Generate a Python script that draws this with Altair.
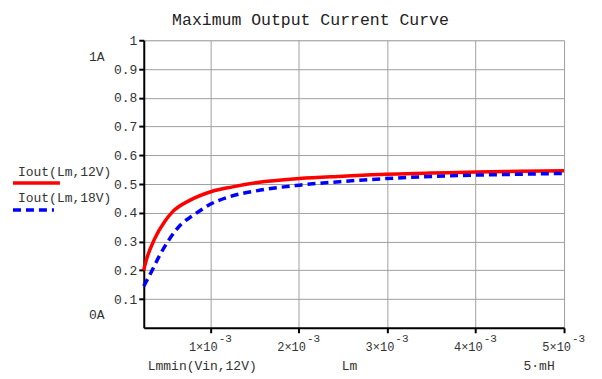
import altair as alt
import pandas as pd

# Lm in mH (axis shown as ×10^-3 H), current in A
lm_12 = [0.243, 0.254, 0.367, 0.48, 0.571, 0.763, 1.011, 1.249, 1.531, 2.006, 2.5, 2.989, 3.5, 4.006, 4.5, 5.0]
iout_12 = [0.200, 0.215, 0.310, 0.370, 0.404, 0.443, 0.474, 0.490, 0.505, 0.519, 0.527, 0.534, 0.538, 0.542, 0.544, 0.546]
lm_18 = [0.243, 0.33, 0.42, 0.537, 0.672, 0.797, 1.011, 1.215, 1.531, 2.006, 2.5, 2.989, 3.5, 4.006, 4.5, 5.0]
iout_18 = [0.145, 0.195, 0.250, 0.310, 0.362, 0.390, 0.432, 0.456, 0.477, 0.496, 0.509, 0.519, 0.526, 0.531, 0.534, 0.537]

x_ticks = [1, 2, 3, 4, 5]
x_tick_base = ["1×10", "2×10", "3×10", "4×10", "5×10"]
x_tick_exp = ["-3", "-3", "-3", "-3", "-3"]
y_ticks = [0.1, 0.2, 0.3, 0.4, 0.5, 0.6, 0.7, 0.8, 0.9, 1.0]

title_text = "Maximum Output Current Curve"
legend_labels = ["Iout(Lm,12V)", "Iout(Lm,18V)"]
x_notes = ["Lmmin(Vin,12V)", "Lm", "5·mH"]
y_notes = ["1A", "0A"]

FONT = "Liberation Mono"
W, H = 421, 288

df12 = pd.DataFrame({"Lm": lm_12, "Iout": iout_12})
df18 = pd.DataFrame({"Lm": lm_18, "Iout": iout_18})
dft = pd.DataFrame({"v": x_ticks, "base": x_tick_base, "exp": x_tick_exp})
one = pd.DataFrame({"k": [0]})

xscale = alt.Scale(domain=[0.243, 5.0], nice=False, zero=False)
yscale = alt.Scale(domain=[0, 1], nice=False)

xaxis = alt.Axis(values=x_ticks, title=None, grid=True, gridColor="#a0a0a0", gridWidth=1,
                 domainColor="black", domainWidth=2, tickColor="black", tickWidth=2, tickSize=5,
                 labels=False)
yaxis = alt.Axis(values=y_ticks, tickCount=10, title=None, grid=True, gridColor="#a0a0a0",
                 gridWidth=1, domainColor="black", domainWidth=2, tickColor="black", tickWidth=2,
                 tickSize=5, labelFont=FONT, labelFontSize=13, labelColor="#333", labelPadding=2,
                 labelOverlap=False, labelBound=False,
                 labelExpr="datum.value == 1 ? '1' : format(datum.value, '.1f')")

red = alt.Chart(df12).mark_line(color="#ff0000", strokeWidth=3.5, interpolate="monotone").encode(
    x=alt.X("Lm:Q", scale=xscale, axis=xaxis),
    y=alt.Y("Iout:Q", scale=yscale, axis=yaxis),
)
blue = alt.Chart(df18).mark_line(color="#0000ff", strokeWidth=3.5, strokeDash=[8, 5],
                                 interpolate="monotone").encode(
    x=alt.X("Lm:Q", scale=xscale, axis=xaxis),
    y=alt.Y("Iout:Q", scale=yscale, axis=yaxis),
)

tick_base = alt.Chart(dft).mark_text(font=FONT, fontSize=12, align="right", baseline="middle",
                                     color="#333", dx=7).encode(
    x=alt.X("v:Q", scale=xscale, axis=xaxis), y=alt.value(307), text="base:N")
tick_exp = alt.Chart(dft).mark_text(font=FONT, fontSize=11, align="left", baseline="middle",
                                    color="#333", dx=8).encode(
    x=alt.X("v:Q", scale=xscale, axis=xaxis), y=alt.value(299), text="exp:N")


def txt(text, x, y, size=13, align="left", color="#333"):
    return alt.Chart(one).mark_text(text=text, font=FONT, fontSize=size, align=align,
                                    baseline="middle", color=color).encode(
        x=alt.value(x), y=alt.value(y))


layers = [red, blue, tick_base, tick_exp,
          txt(title_text, 167, -20, size=16.5, align="center", color="#222"),
          txt(legend_labels[0], -126, 132),
          txt(legend_labels[1], -126, 158),
          txt(y_notes[0], -47, 17, align="center"),
          txt(y_notes[1], -47, 275, align="center"),
          txt(x_notes[0], 4, 326),
          txt(x_notes[1], 206, 326, align="center"),
          txt(x_notes[2], 396, 326, align="center"),
          alt.Chart(one).mark_rule(color="#ff0000", strokeWidth=3.5).encode(
              x=alt.value(-131), x2=alt.value(-84), y=alt.value(143)),
          alt.Chart(one).mark_rule(color="#0000ff", strokeWidth=3.5, strokeDash=[8, 5]).encode(
              x=alt.value(-131), x2=alt.value(-90), y=alt.value(170)),
          ]

chart = alt.layer(*layers).properties(
    width=W, height=H,
    autosize=alt.AutoSizeParams(type="none"),
    padding={"left": 136, "top": 32, "right": 30, "bottom": 46},
).configure_view(stroke="#a0a0a0", strokeWidth=1).configure(background="white")

chart.save("out.html", embed_options={"renderer": "svg", "actions": False})
